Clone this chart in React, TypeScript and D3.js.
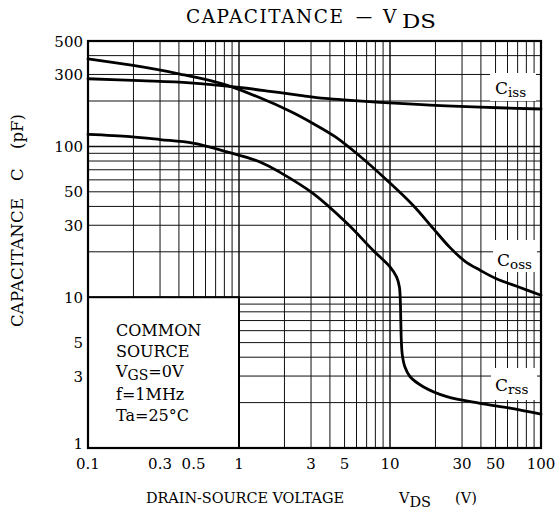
import React from 'react';
import * as d3 from 'd3';

const xTicks = [0.1, 0.3, 0.5, 1, 3, 5, 10, 30, 50, 100];
const yTicks = [1, 3, 5, 10, 30, 50, 100, 300, 500];

// [VDS (V), C (pF)]
const ciss: [number, number][] = [
  [0.1, 281], [0.221, 273], [0.473, 264], [1, 246], [1.6, 232], [2.53, 218], [3.71, 208],
  [5.44, 202], [8.59, 196], [18.4, 188], [39.5, 182], [100, 177],
];
const coss: [number, number][] = [
  [0.1, 380], [0.199, 344], [0.406, 302], [0.807, 257], [1.377, 210], [2.18, 171],
  [3.09, 142], [4.33, 116], [6.33, 86], [9.55, 59.6], [14.2, 40.7], [19.3, 28.6],
  [24.9, 21.4], [31.4, 17.3], [39.5, 15.1], [51.1, 13.2], [72.6, 11.6], [100, 10.3],
];
const crss: [number, number][] = [
  [0.1, 120], [0.19, 116], [0.3, 111], [0.496, 105], [0.833, 92], [1.377, 78.9],
  [1.87, 67.3], [3.09, 48.8], [5.19, 30.9], [7.71, 20.5], [10, 15.9], [11.07, 13.6],
  [11.55, 11.65], [11.7, 9.55], [11.79, 7.04], [11.88, 5.19], [12.07, 4.13],
  [12.56, 3.44], [13.55, 2.98], [16.6, 2.55], [23.8, 2.19], [39.5, 1.98], [62.4, 1.84],
  [100, 1.68],
];
const legendLines = ['COMMON', 'SOURCE', 'V', 'GS', '=0V', 'f=1MHz', 'Ta=25°C'];

const FONT = '"DejaVu Serif", serif';

export default function App() {
  const W = 556, H = 513;
  const left = 88, right = 541, top = 41, bottom = 448;
  const x = d3.scaleLog().domain([0.1, 100]).range([left, right]);
  const y = d3.scaleLog().domain([1, 500]).range([bottom, top]);

  const xGrid: { v: number; major: boolean }[] = [];
  [0.1, 1, 10].forEach((d) => { for (let k = 1; k <= 9; k++) xGrid.push({ v: d * k, major: k === 1 }); });
  const yGrid: { v: number; major: boolean }[] = [];
  [1, 10, 100].forEach((d) => { for (let k = 1; k <= 9; k++) if (d * k <= 500) yGrid.push({ v: d * k, major: k === 1 }); });

  const line = d3.line<[number, number]>()
    .x((d) => x(d[0]))
    .y((d) => y(d[1]))
    .curve(d3.curveCatmullRom.alpha(0.5));

  const lx0 = x(0.1), lx1 = x(1), ly0 = y(10), ly1 = y(1);

  return (
    <svg width={W} height={H} style={{ position: 'absolute', left: 0, top: 0, background: '#fff' }}
      fontFamily={FONT}>
      <rect x={0} y={0} width={W} height={H} fill="#fff" />
      {/* title */}
      <g fill="#000">
        <text x={186} y={23} fontSize={18.5} textLength={157} lengthAdjust="spacing">CAPACITANCE</text>
        <text x={355} y={23} fontSize={18.5} textLength={18} lengthAdjust="spacingAndGlyphs">–</text>
        <text x={383} y={23} fontSize={18.5}>V</text>
        <text x={402} y={28} fontSize={18} textLength={34} lengthAdjust="spacingAndGlyphs">DS</text>
      </g>

      {/* grid */}
      <g stroke="#111">
        {xGrid.map((g, i) => (
          <line key={'gx' + i} x1={x(g.v)} x2={x(g.v)} y1={top} y2={bottom} strokeWidth={g.major ? 1.5 : 1} />
        ))}
        {yGrid.map((g, i) => (
          <line key={'gy' + i} x1={left} x2={right} y1={y(g.v)} y2={y(g.v)} strokeWidth={g.major ? 1.5 : 1} />
        ))}
      </g>

      {/* curves */}
      <g fill="none" stroke="#000" strokeWidth={2.8} strokeLinejoin="round" strokeLinecap="round">
        <path d={line(ciss) || ''} />
        <path d={line(coss) || ''} />
        <path d={line(crss) || ''} />
      </g>

      {/* legend box */}
      <rect x={lx0} y={ly0} width={lx1 - lx0} height={ly1 - ly0} fill="#fff" stroke="#000" strokeWidth={2} />
      <g fontSize={16} fill="#000">
        <text x={116} y={336}>{legendLines[0]}</text>
        <text x={116} y={357}>{legendLines[1]}</text>
        <text x={116} y={377}>{legendLines[2]}<tspan fontSize={14} dy={3}>{legendLines[3]}</tspan><tspan dy={-3}>{legendLines[4]}</tspan></text>
        <text x={116} y={400}>{legendLines[5]}</text>
        <text x={116} y={421}>{legendLines[6]}</text>
      </g>

      {/* curve labels */}
      <rect x={490} y={73} width={46} height={28} fill="#fff" />
      <text x={495} y={94} fontSize={17}>C<tspan fontSize={13.5} dy={3}>iss</tspan></text>
      <rect x={493} y={240} width={44} height={32} fill="#fff" />
      <text x={497} y={266} fontSize={17}>C<tspan fontSize={13.5} dy={3}>oss</tspan></text>
      <rect x={491} y={368} width={46} height={32} fill="#fff" />
      <text x={495} y={391} fontSize={17}>C<tspan fontSize={13.5} dy={3}>rss</tspan></text>

      {/* frame */}
      <rect x={left} y={top} width={right - left} height={bottom - top} fill="none" stroke="#000" strokeWidth={2.2} />

      {/* tick labels */}
      <g fontSize={15} fill="#000">
        {xTicks.map((v, i) => (
          <text key={'xt' + i} x={x(v)} y={469} textAnchor="middle">{String(v)}</text>
        ))}
        {yTicks.map((v, i) => (
          <text key={'yt' + i} x={83} y={Math.min(y(v), 443) + 5.5} textAnchor="end">{String(v)}</text>
        ))}
      </g>

      {/* x axis title */}
      <g fontSize={14.5} fill="#000">
        <text x={146} y={503} textLength={198} lengthAdjust="spacing">DRAIN-SOURCE VOLTAGE</text>
        <text x={399} y={503}>V<tspan fontSize={14.5} dy={4}>DS</tspan></text>
        <text x={455} y={503}>(V)</text>
      </g>

      {/* y axis title */}
      <g fontSize={16.5} fill="#000" transform="translate(23,327) rotate(-90)">
        <text x={0} y={0} textLength={129} lengthAdjust="spacing">CAPACITANCE</text>
        <text x={146} y={0}>C</text>
        <text x={178} y={0}>(pF)</text>
      </g>
    </svg>
  );
}
